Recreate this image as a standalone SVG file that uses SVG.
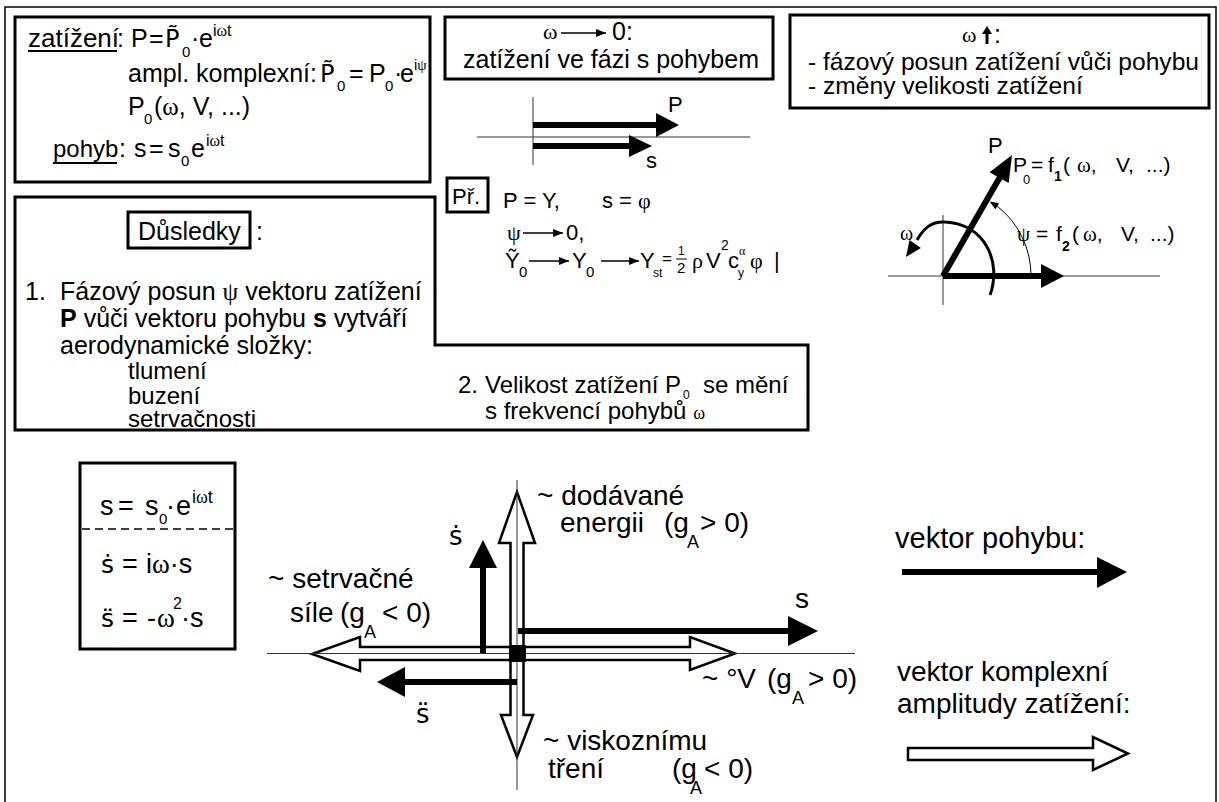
<svg xmlns="http://www.w3.org/2000/svg" width="1219" height="802" viewBox="0 0 1219 802">
<defs>
<style>
.t{font-family:"Liberation Sans",Arial,sans-serif;fill:#000}
.g{font-family:"Liberation Serif","DejaVu Serif",serif}
.dj{font-family:"DejaVu Sans","Liberation Sans",sans-serif}
.box{fill:none;stroke:#000;stroke-width:3}
.ax{stroke:#333;stroke-width:1;fill:none}
.sh{stroke:#000;stroke-width:6;fill:none}
.hd{fill:#000;stroke:none}
.hol{fill:#fff;stroke:#000;stroke-width:2.5}
.ia{stroke:#000;stroke-width:1.5;fill:none;marker-end:url(#ah)}
.ul{stroke:#000;stroke-width:2}
</style>
<marker id="ah" markerUnits="userSpaceOnUse" markerWidth="10" markerHeight="8" refX="10" refY="4" orient="auto"><path d="M0,0 L10,4 L0,8 z" fill="#000"/></marker>
</defs>
<rect width="1219" height="802" fill="#fff"/>
<path d="M5,802 V7 H1216 V802" fill="none" stroke="#000" stroke-width="1.5"/>

<g id="zatizeni">
<rect class="box" x="15" y="17" width="415" height="165" stroke-width="2"/>
<g class="t" font-size="25">
<text x="28" y="47" font-size="26">zatížení</text>
<text x="117" y="47">:</text>
<text x="131" y="47">P</text>
<text x="149" y="47">=</text>
<text class="dj" x="165" y="47" font-size="24">P̃</text>
<text x="182" y="57" font-size="15">0</text>
<text x="191" y="47">·</text>
<text x="199" y="47">e</text>
<text x="213" y="36" font-size="16">i<tspan class="g">ω</tspan>t</text>
<text x="128" y="82">ampl. komplexní:</text>
<text class="dj" x="320" y="82" font-size="24">P̃</text>
<text x="337" y="91" font-size="15">0</text>
<text x="349" y="82">=</text>
<text x="369" y="82">P</text>
<text x="385" y="91" font-size="15">0</text>
<text x="394" y="82">·</text>
<text x="400" y="82">e</text>
<text x="414" y="70" font-size="15">i<tspan class="g">ψ</tspan></text>
<text x="128" y="115">P</text>
<text x="144" y="124" font-size="15">0</text>
<text x="154" y="115">(<tspan class="g">ω</tspan>, V, ...)</text>
<text x="53" y="157" font-size="24">pohyb</text>
<text x="119" y="157">:</text>
<text x="134" y="157">s</text>
<text x="149" y="157">=</text>
<text x="168" y="157">s</text>
<text x="181" y="166" font-size="15">0</text>
<text x="191" y="157">e</text>
<text x="206" y="146" font-size="16">i<tspan class="g">ω</tspan>t</text>
</g>
<line class="ul" x1="28" y1="51" x2="117" y2="51"/>
<line class="ul" x1="53" y1="163" x2="117" y2="163"/>
</g>

<g id="omega-nula">
<rect class="box" x="445" y="17" width="328" height="62"/>
<text class="t g" x="543" y="39" font-size="22">ω</text>
<line class="ia" x1="561" y1="33" x2="606" y2="33"/>
<text class="t" x="612" y="40" font-size="25">0:</text>
<text class="t" x="463" y="68" font-size="25">zatížení ve fázi s pohybem</text>
</g>

<g id="faze-diagram">
<line class="ax" x1="477" y1="137" x2="750" y2="137"/>
<line class="ax" x1="533" y1="97" x2="533" y2="165"/>
<line class="sh" x1="533" y1="125" x2="659" y2="125" stroke-width="5"/>
<polygon class="hd" points="656,113 679,125 656,137"/>
<line class="sh" x1="533" y1="146" x2="632" y2="146" stroke-width="5"/>
<polygon class="hd" points="629,135 652,146 629,157"/>
<text class="t" x="668" y="112" font-size="22">P</text>
<text class="t" x="646" y="168" font-size="22">s</text>
</g>

<g id="priklad">
<rect class="box" x="447" y="178" width="41" height="34" stroke-width="2"/>
<text class="t" x="452" y="204" font-size="22">Př.</text>
<g class="t" font-size="22">
<text x="503" y="208">P = Y,</text>
<text x="602" y="208">s = <tspan class="g">φ</tspan></text>
<text class="g" x="507" y="240">ψ</text>
<text x="566" y="240">0,</text>
<text x="505" y="268">Ỹ</text>
<text x="519" y="277" font-size="15">0</text>
<text x="572" y="268">Y</text>
<text x="586" y="277" font-size="15">0</text>
<text x="640" y="268">Y</text>
<text x="653" y="277" font-size="12">st</text>
<text x="662" y="264" font-size="17">=</text>
<text x="678" y="255" font-size="12">1</text>
<text x="677" y="273" font-size="15">2</text>
<text class="g" x="692" y="268">ρ</text>
<text x="706" y="268">V</text>
<text x="721" y="250" font-size="14">2</text>
<text x="728" y="268">c</text>
<text x="738" y="277" font-size="12">y</text>
<text class="g" x="739" y="255" font-size="12">α</text>
<text class="g" x="750" y="268">φ</text>
<text x="774" y="268">|</text>
</g>
<line x1="676" y1="259" x2="687" y2="259" stroke="#000" stroke-width="1"/>
<line class="ia" x1="523" y1="233" x2="563" y2="233"/>
<line class="ia" x1="529" y1="261" x2="569" y2="261"/>
<line class="ia" x1="601" y1="261" x2="639" y2="261"/>
</g>

<g id="omega-roste">
<rect class="box" x="790" y="15" width="419" height="93"/>
<text class="t g" x="962" y="42" font-size="22">ω</text>
<line x1="987" y1="44" x2="987" y2="33" stroke="#000" stroke-width="3"/>
<polygon class="hd" points="982,34 992,34 987,26"/>
<text class="t" x="994" y="43" font-size="25">:</text>
<text class="t" x="808" y="70" font-size="24.6">- fázový posun zatížení vůči pohybu</text>
<text class="t" x="808" y="94" font-size="24.6">- změny velikosti zatížení</text>
</g>

<g id="rotace-diagram">
<line class="ax" x1="888" y1="276" x2="1160" y2="276"/>
<line class="ax" x1="943" y1="215" x2="943" y2="305"/>
<line class="sh" x1="943" y1="276" x2="1044" y2="276"/>
<polygon class="hd" points="1041,264 1064,276 1041,288"/>
<line class="sh" x1="943" y1="276" x2="1000" y2="177"/>
<polygon class="hd" points="1012,155 1008.7,183 989.5,172.2"/>
<path d="M990,295 C1002,262 985,224 945,222 C932,221 924,228 917,240" fill="none" stroke="#000" stroke-width="3"/>
<polygon class="hd" points="906,257 920.9,247.9 909.5,239.9"/>
<path d="M1031,276 A88,88 0 0 0 997.2,206.2" fill="none" stroke="#000" stroke-width="1"/>
<polygon class="hd" points="989.6,201.4 995.4,209.2 999.1,203.2"/>
<g class="t" font-size="21">
<text x="988" y="153" font-size="22">P</text>
<text x="1013" y="172">P</text>
<text x="1023" y="184" font-size="13">0</text>
<text x="1031" y="172">=</text>
<text x="1048" y="172">f</text>
<text x="1054" y="181" font-size="14" font-weight="bold">1</text>
<text x="1063" y="172">(</text>
<text x="1077" y="172"><tspan class="g">ω</tspan>,</text>
<text x="1116" y="172">V,</text>
<text x="1146" y="172">...)</text>
<text class="g" x="1017" y="241">ψ</text>
<text x="1036" y="241">=</text>
<text x="1056" y="241">f</text>
<text x="1062" y="251" font-size="14" font-weight="bold">2</text>
<text x="1072" y="241">(</text>
<text x="1083" y="241"><tspan class="g">ω</tspan>,</text>
<text x="1121" y="241">V,</text>
<text x="1150" y="241">...)</text>
<text class="g" x="900" y="240" font-size="20">ω</text>
</g>
</g>

<g id="dusledky">
<polygon class="box" points="15,197 435,197 435,345 808,345 808,430 15,430"/>
<rect class="box" x="128" y="212" width="122" height="36"/>
<g class="t" font-size="25">
<text x="138" y="240">Důsledky</text>
<text x="256" y="240">:</text>
<text x="25" y="300">1.</text>
<text x="60" y="300">Fázový posun <tspan class="g">ψ</tspan> vektoru zatížení</text>
<text x="60" y="327"><tspan font-weight="bold">P</tspan> vůči vektoru pohybu <tspan font-weight="bold">s</tspan> vytváří</text>
<text x="60" y="354">aerodynamické složky:</text>
<text x="128" y="379" font-size="24">tlumení</text>
<text x="128" y="404" font-size="24">buzení</text>
<text x="128" y="427" font-size="24">setrvačnosti</text>
<text x="458" y="393" font-size="24">2.</text>
<text x="485" y="393" font-size="24">Velikost zatížení P</text>
<text x="683" y="399" font-size="12">0</text>
<text x="703" y="393" font-size="24">se mění</text>
<text x="485" y="419" font-size="24">s frekvencí pohybů <tspan class="g" font-size="18">ω</tspan></text>
</g>
</g>

<g id="vzorce-pohyb">
<rect class="box" x="80" y="463" width="155" height="186"/>
<line x1="82" y1="529" x2="233" y2="529" stroke="#000" stroke-width="1.5" stroke-dasharray="8 5"/>
<g class="t" font-size="27">
<text x="100" y="515">s</text>
<text x="118" y="515">=</text>
<text x="145" y="515">s</text>
<text x="159" y="524" font-size="15">0</text>
<text x="166" y="515">·</text>
<text x="176" y="515">e</text>
<text x="192" y="503" font-size="18">i<tspan class="g">ω</tspan>t</text>
<text class="dj" x="101" y="573" font-size="25">ṡ</text>
<text x="122" y="573">=</text>
<text x="146" y="573">i<tspan class="g">ω</tspan>·s</text>
<text class="dj" x="101" y="627" font-size="25">s̈</text>
<text x="122" y="627">=</text>
<text x="147" y="627">-</text>
<text class="g" x="157" y="627">ω</text>
<text x="173" y="609" font-size="16">2</text>
<text x="181" y="627">·s</text>
</g>
</g>

<g id="vektory">
<polygon class="hol" points="510.5,653 510.5,543 499,543 517,492 535,543 523.5,543 523.5,653"/>
<polygon class="hol" points="510.5,653 510.5,715 501,715 517,757 533,715 523.5,715 523.5,653"/>
<polygon class="hol" points="517,647 360,647 360,637 312,654 360,671 360,660 517,660"/>
<polygon class="hol" points="517,647 690,647 690,637 735,653.5 690,670 690,660 517,660"/>
<line class="ax" x1="267" y1="653.5" x2="855" y2="653.5"/>
<line class="ax" x1="517" y1="480" x2="517" y2="790"/>
<line class="sh" x1="483" y1="653" x2="483" y2="566"/>
<polygon class="hd" points="469,568 497,568 483,540"/>
<line class="sh" x1="517" y1="682" x2="403" y2="682"/>
<polygon class="hd" points="405,667 405,697 377,682"/>
<line class="sh" x1="518" y1="631" x2="790" y2="631"/>
<polygon class="hd" points="788,616 818,631 788,646"/>
<rect x="509" y="645" width="17" height="17" fill="#000"/>
<g class="t" font-size="28">
<text class="dj" x="449" y="545" font-size="26">ṡ</text>
<text class="dj" x="416" y="723" font-size="26">s̈</text>
<text x="795" y="608">s</text>
<text x="537" y="505">~ dodávané</text>
<text x="560" y="532">energii</text>
<text x="664" y="532">(g</text>
<text x="687" y="548" font-size="18">A</text>
<text x="700" y="532">&gt; 0)</text>
<text x="268" y="588">~ setrvačné</text>
<text x="290" y="622">síle</text>
<text x="340" y="622">(g</text>
<text x="364" y="638" font-size="18">A</text>
<text x="382" y="622">&lt; 0)</text>
<text x="702" y="688">~ °V</text>
<text x="767" y="688">(g</text>
<text x="792" y="704" font-size="18">A</text>
<text x="808" y="688">&gt; 0)</text>
<text x="543" y="750">~ viskoznímu</text>
<text x="548" y="778">tření</text>
<text x="672" y="778">(g</text>
<text x="690" y="794" font-size="18">A</text>
<text x="704" y="778">&lt; 0)</text>
</g>
</g>

<g id="legenda">
<g class="t" font-size="28">
<text x="895" y="548" font-size="29">vektor pohybu:</text>
<text x="897" y="681">vektor komplexní</text>
<text x="897" y="713">amplitudy zatížení:</text>
</g>
<line class="sh" x1="902" y1="572" x2="1099" y2="572"/>
<polygon class="hd" points="1097,557 1127,572 1097,588"/>
<polygon class="hol" stroke-width="3" points="908,748 1093,748 1093,737 1128,753.5 1093,770 1093,760 908,760"/>
</g>
</svg>
